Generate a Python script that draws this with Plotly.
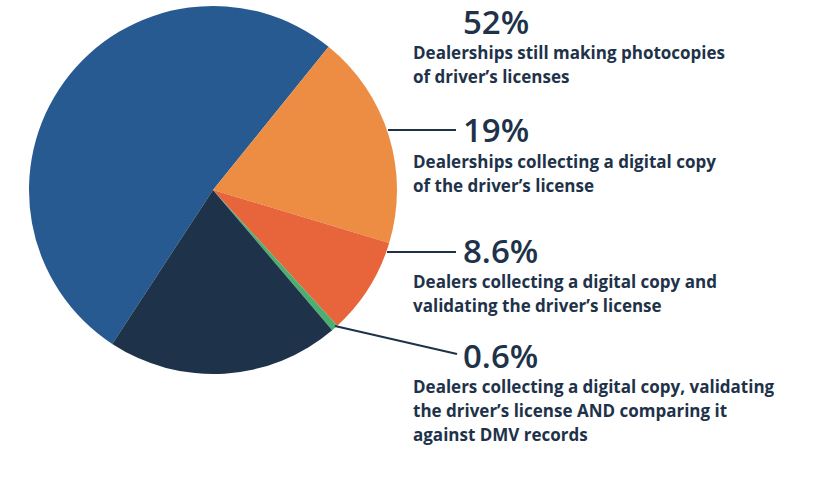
import plotly.graph_objects as go

W, H = 816, 478

# slices, clockwise starting from the big blue one
segments = ["Photocopies", "Digital copy", "Digital copy + validation",
            "Digital copy + validation + DMV", "Other"]
values = [52, 19, 8.6, 0.6, 20.6]
colors = ["#285A92", "#EC8D43", "#E8643A", "#4CAF72", "#1E3249"]

pct_labels = ["52%", "19%", "8.6%", "0.6%"]
descriptions = [
    ["Dealerships still making photocopies", "of driver’s licenses"],
    ["Dealerships collecting a digital copy", "of the driver’s license"],
    ["Dealers collecting a digital copy and", "validating the driver’s license"],
    ["Dealers collecting a digital copy, validating",
     "the driver’s license AND comparing it", "against DMV records"],
]

# label layout in window pixels (baselines)
pct_base = [34, 142, 263, 368]
desc_base = [59, 168, 288, 393]
line_gap = 24
leaders = [None, (388, 130, 456, 130), (387, 252, 456, 252), (335, 326, 457, 354)]

TXT = "#1E3249"
FONT = "Open Sans"
PCT_SIZE = 33
DESC_SIZE = 17


def px(x):
    return x / W


def py(y):
    return 1 - y / H


fig = go.Figure(go.Pie(
    labels=segments, values=values, sort=False, direction="clockwise",
    rotation=-146.8, textinfo="none", hoverinfo="label+percent",
    marker=dict(colors=colors, line=dict(width=0)),
    domain=dict(x=[px(29), px(397)], y=[py(374), py(6)]),
))

annotations = []
shapes = []
for i, pct in enumerate(pct_labels):
    annotations.append(dict(
        x=px(461), y=py(pct_base[i] - PCT_SIZE * 0.39), xref="paper", yref="paper",
        xanchor="left", yanchor="middle", showarrow=False, text=pct,
        font=dict(family=FONT, size=PCT_SIZE, color=TXT, weight=600)))
    for j, ln in enumerate(descriptions[i]):
        annotations.append(dict(
            x=px(411), y=py(desc_base[i] + j * line_gap - DESC_SIZE * 0.39),
            xref="paper", yref="paper", xanchor="left", yanchor="middle",
            showarrow=False, text=ln,
            font=dict(family=FONT, size=DESC_SIZE, color=TXT, weight=700)))
    if leaders[i]:
        x0, y0, x1, y1 = leaders[i]
        shapes.append(dict(type="line", xref="paper", yref="paper",
                           x0=px(x0), y0=py(y0), x1=px(x1), y1=py(y1),
                           line=dict(color=TXT, width=2)))

fig.update_layout(
    width=W, height=H, margin=dict(l=0, r=0, t=0, b=0),
    showlegend=False, paper_bgcolor="white", plot_bgcolor="white",
    annotations=annotations, shapes=shapes,
)

# drop the default page margin so the chart sits at the window corner
fig.write_html("out.html", config={"displayModeBar": False},
               post_script="document.body.style.margin = '0';")
